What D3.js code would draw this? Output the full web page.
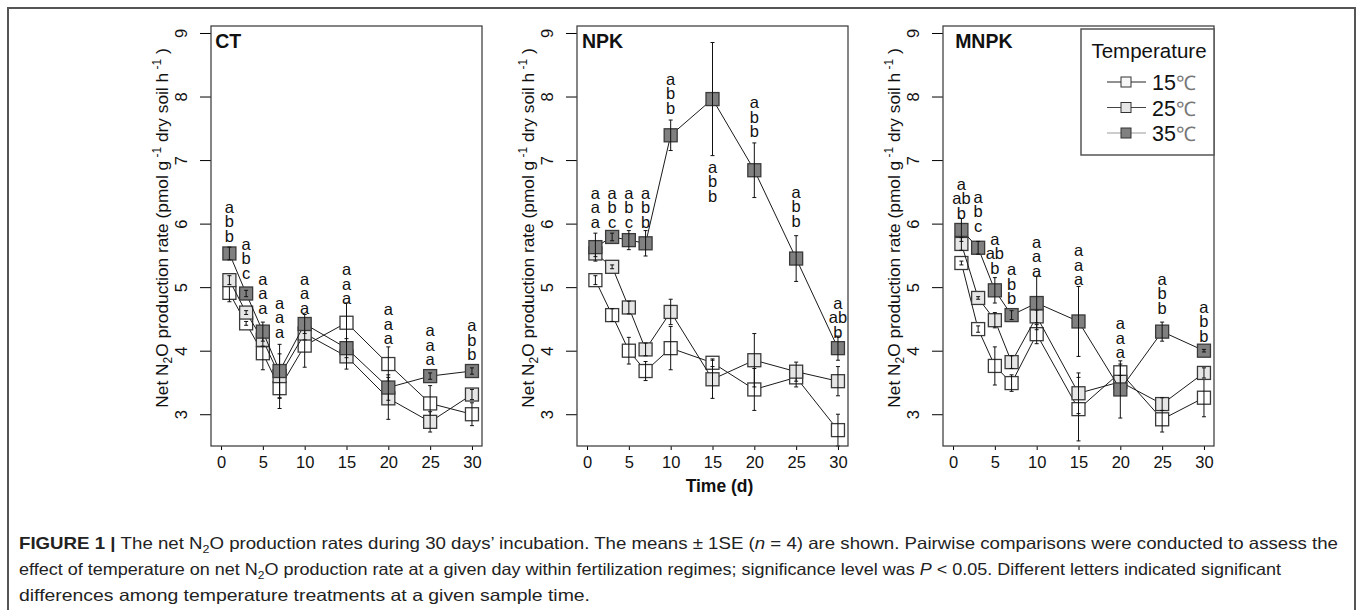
<!DOCTYPE html>
<html>
<head>
<meta charset="utf-8">
<script src="https://cdn.jsdelivr.net/npm/d3@7"></script>
<style>
  body { margin: 0; background: #fff; }
  svg { display: block; }
  text { font-family: "Liberation Sans", Arial, sans-serif; }
</style>
</head>
<body>
<div id="js_chart"></div>
<script>
// sample days and treatments
const times = [1, 3, 5, 7, 10, 15, 20, 25, 30];
const temps = ["15", "25", "35"];
const panels = ["CT", "NPK", "MNPK"];
const xTicks = [0, 5, 10, 15, 20, 25, 30];
const yTicks = [3, 4, 5, 6, 7, 8, 9];

// CT means and SE
const ct15 = [4.91, 4.43, 3.96, 3.41, 4.08, 4.44, 3.79, 3.17, 3.00];
const ct25 = [5.11, 4.60, 4.17, 3.60, 4.27, 3.91, 3.25, 2.88, 3.31];
const ct35 = [5.53, 4.90, 4.30, 3.68, 4.42, 4.04, 3.42, 3.60, 3.68];
const ct15se = [0.14, 0.03, 0.26, 0.32, 0.34, 0.31, 0.27, 0.28, 0.18];
const ct25se = [0.07, 0.03, 0.10, 0.35, 0.10, 0.20, 0.33, 0.16, 0.08];
const ct35se = [0.10, 0.05, 0.15, 0.42, 0.15, 0.15, 0.20, 0.05, 0.05];

// NPK means and SE
const npk15 = [5.11, 4.56, 4.00, 3.68, 4.04, 3.81, 3.39, 3.58, 2.75];
const npk25 = [5.53, 5.32, 4.68, 4.02, 4.61, 3.55, 3.85, 3.67, 3.52];
const npk35 = [5.63, 5.79, 5.74, 5.69, 7.39, 7.96, 6.84, 5.45, 4.04];
const npk15se = [0.07, 0.10, 0.21, 0.15, 0.34, 0.06, 0.33, 0.15, 0.25];
const npk25se = [0.05, 0.03, 0.10, 0.10, 0.20, 0.30, 0.42, 0.15, 0.23];
const npk35se = [0.22, 0.06, 0.15, 0.20, 0.24, 0.89, 0.43, 0.36, 0.19];

// MNPK means and SE
const mnpk15 = [5.38, 4.34, 3.76, 3.49, 4.26, 3.08, 3.66, 2.92, 3.26];
const mnpk25 = [5.68, 4.83, 4.48, 3.82, 4.54, 3.33, 3.51, 3.16, 3.65];
const mnpk35 = [5.90, 5.62, 4.95, 4.56, 4.75, 4.46, 3.39, 4.30, 4.00];
const mnpk15se = [0.03, 0.05, 0.30, 0.13, 0.15, 0.50, 0.13, 0.20, 0.30];
const mnpk25se = [0.10, 0.02, 0.12, 0.10, 0.10, 0.32, 0.10, 0.10, 0.08];
const mnpk35se = [0.18, 0.10, 0.20, 0.07, 0.42, 0.55, 0.45, 0.15, 0.02];

// significance letters (15/25/35) and where the top letter sits
const ctLetters = ["a b b", "a b c", "a a a", "a a a", "a a a", "a a a", "a a a", "a a a", "a b b"];
const ctLetterY = [6.26, 5.68, 5.13, 4.75, 5.13, 5.28, 4.65, 4.32, 4.40];
const npkLetters = ["a a a", "a b c", "a b c", "a b b", "a b b", "a b b", "a b b", "a b b", "a ab b"];
const npkLetterY = [6.48, 6.48, 6.48, 6.48, 8.28, 6.89, 7.91, 6.50, 4.75];
const mnpkLetters = ["a ab b", "a b c", "a ab b", "a b b", "a a a", "a a a", "a a a", "a b b", "a b b"];
const mnpkLetterY = [6.62, 6.42, 5.76, 5.28, 5.71, 5.58, 4.43, 5.13, 4.69];

const panelData = [
  { means: [ct15, ct25, ct35], se: [ct15se, ct25se, ct35se], letters: ctLetters, letterY: ctLetterY },
  { means: [npk15, npk25, npk35], se: [npk15se, npk25se, npk35se], letters: npkLetters, letterY: npkLetterY },
  { means: [mnpk15, mnpk25, mnpk35], se: [mnpk15se, mnpk25se, mnpk35se], letters: mnpkLetters, letterY: mnpkLetterY }
];

const width = 1357;
const height = 610;
const plotTop = 26;
const plotBottom = 446;
const plotW = 271;
const lefts = [211, 577, 943];
const titleX = [-0.7, -0.6, 0.25];
const fills = ["#ffffff", "#e6e6e6", "#808080"];
const legendLine = ["#222", "#444", "#9a9a9a"];

const svg = d3.select("#js_chart")
  .append("svg")
  .attr("width", width)
  .attr("height", height);

// outer frame
svg.append("path")
  .attr("d", `M8,${height + 5}V8H1355V${height + 5}`)
  .attr("fill", "none")
  .attr("stroke", "#555")
  .attr("stroke-width", 2);

const y = d3.scaleLinear().domain([2.5, 9.11]).range([plotBottom, plotTop]);

panels.forEach((name, i) => {
  const left = lefts[i];
  const data = panelData[i];
  const x = d3.scaleLinear().domain([-1.2, 31.2]).range([left, left + plotW]);
  const g = svg.append("g");

  // x axis
  const gx = g.append("g")
    .attr("transform", `translate(0,${plotBottom})`)
    .call(d3.axisBottom(x).tickValues(xTicks).tickSize(4).tickPadding(6));
  gx.select(".domain").remove();
  gx.selectAll("line").attr("stroke", "#000");
  gx.selectAll("text")
    .attr("font-size", 16.5)
    .attr("fill", "#111")
    .attr("font-family", "'Liberation Sans', Arial, sans-serif");

  // y axis, labels turned like R
  const gy = g.append("g")
    .attr("transform", `translate(${left},0)`)
    .call(d3.axisLeft(y).tickValues(yTicks).tickFormat(d3.format("d")).tickSize(11));
  gy.select(".domain").remove();
  gy.selectAll("line").attr("stroke", "#000");
  gy.selectAll("text")
    .attr("transform", "rotate(-90)")
    .attr("x", 0)
    .attr("y", -24)
    .attr("dy", 0)
    .attr("text-anchor", "middle")
    .attr("font-size", 16.5)
    .attr("fill", "#111")
    .attr("font-family", "'Liberation Sans', Arial, sans-serif");

  // y label
  const yl = g.append("text")
    .attr("transform", `translate(${left - 43},228) rotate(-90)`)
    .attr("text-anchor", "middle")
    .attr("font-size", 17.3)
    .attr("fill", "#111");
  yl.append("tspan").text("Net N");
  yl.append("tspan").attr("font-size", 12).attr("dy", 4).text("2");
  yl.append("tspan").attr("dy", -4).text("O production rate (pmol g");
  yl.append("tspan").attr("font-size", 12).attr("dy", -7).text(" -1");
  yl.append("tspan").attr("dy", 7).text(" dry soil h");
  yl.append("tspan").attr("font-size", 12).attr("dy", -7).text(" -1");
  yl.append("tspan").attr("dy", 7).text(" )");

  // series
  const line = d3.line().x(d => x(d.t)).y(d => y(d.v));
  data.means.forEach((vals, s) => {
    const pts = times.map((t, k) => ({ t, v: vals[k], se: data.se[s][k] }));
    g.append("path")
      .datum(pts)
      .attr("d", line)
      .attr("fill", "none")
      .attr("stroke", "#1a1a1a")
      .attr("stroke-width", 1);

    g.append("g").selectAll("rect")
      .data(pts)
      .join("rect")
        .attr("x", d => x(d.t) - 6.5)
        .attr("y", d => y(d.v) - 6.5)
        .attr("width", 13)
        .attr("height", 13)
        .attr("fill", fills[s])
        .attr("stroke", "#3a3a3a")
        .attr("stroke-width", 1.3);

    const eb = g.append("g").attr("stroke", "#111").attr("stroke-width", 1);
    eb.selectAll("line.v")
      .data(pts)
      .join("line")
        .attr("class", "v")
        .attr("x1", d => x(d.t)).attr("x2", d => x(d.t))
        .attr("y1", d => y(d.v - d.se)).attr("y2", d => y(d.v + d.se));
    eb.selectAll("line.top")
      .data(pts)
      .join("line")
        .attr("class", "top")
        .attr("x1", d => x(d.t) - 2).attr("x2", d => x(d.t) + 2)
        .attr("y1", d => y(d.v + d.se)).attr("y2", d => y(d.v + d.se));
    eb.selectAll("line.bot")
      .data(pts)
      .join("line")
        .attr("class", "bot")
        .attr("x1", d => x(d.t) - 2).attr("x2", d => x(d.t) + 2)
        .attr("y1", d => y(d.v - d.se)).attr("y2", d => y(d.v - d.se));
  });

  // letters
  times.forEach((t, k) => {
    data.letters[k].split(" ").forEach((l, j) => {
      g.append("text")
        .attr("x", x(t))
        .attr("y", y(data.letterY[k]) + j * 14.5)
        .attr("dy", "0.35em")
        .attr("text-anchor", "middle")
        .attr("font-size", 16.5)
        .attr("fill", "#111")
        .text(l);
    });
  });

  // plot box
  g.append("rect")
    .attr("x", left).attr("y", plotTop)
    .attr("width", plotW).attr("height", plotBottom - plotTop)
    .attr("fill", "none")
    .attr("stroke", "#444")
    .attr("stroke-width", 1.3);

  g.append("text")
    .attr("x", x(titleX[i]))
    .attr("y", 48)
    .attr("font-size", 19.5)
    .attr("font-weight", "bold")
    .attr("fill", "#111")
    .text(name);
});

// x label under the middle panel
svg.append("text")
  .attr("x", lefts[1] + plotW / 2 + 7)
  .attr("y", 492)
  .attr("text-anchor", "middle")
  .attr("font-size", 17.5)
  .attr("font-weight", "bold")
  .attr("fill", "#111")
  .text("Time (d)");

// legend inside MNPK
const lg = svg.append("g");
lg.append("rect")
  .attr("x", 1081).attr("y", 29)
  .attr("width", 133).attr("height", 126)
  .attr("fill", "#fff")
  .attr("stroke", "#555")
  .attr("stroke-width", 1.5);
lg.append("text")
  .attr("x", 1149).attr("y", 58)
  .attr("text-anchor", "middle")
  .attr("font-size", 20.5)
  .attr("fill", "#111")
  .text("Temperature");
temps.forEach((tp, s) => {
  const cy = 82 + s * 25.5;
  lg.append("line")
    .attr("x1", 1107).attr("x2", 1146)
    .attr("y1", cy).attr("y2", cy)
    .attr("stroke", legendLine[s]);
  lg.append("rect")
    .attr("x", 1121).attr("y", cy - 5)
    .attr("width", 10).attr("height", 10)
    .attr("fill", s === 0 ? "#f7f7f7" : fills[s])
    .attr("stroke", "#333");
  const t = lg.append("text")
    .attr("x", 1152).attr("y", cy + 8)
    .attr("font-size", 21.5)
    .attr("fill", "#111");
  t.append("tspan").text(tp);
  t.append("tspan").attr("fill", "#777").attr("font-size", 20).text("℃");
});

// caption
const capFont = "'Liberation Sans Narrow', 'Roboto Condensed', 'Liberation Sans', Arial, sans-serif";
const c1 = svg.append("text").attr("x", 19).attr("y", 549)
  .attr("font-size", 16.5).attr("fill", "#222").attr("font-family", capFont)
  .attr("textLength", 1319).attr("lengthAdjust", "spacingAndGlyphs");
c1.append("tspan").attr("font-weight", "bold").text("FIGURE 1 | ");
c1.append("tspan").text("The net N");
c1.append("tspan").attr("font-size", 11).attr("dy", 4).text("2");
c1.append("tspan").attr("dy", -4).text("O production rates during 30 days’ incubation. The means ± 1SE (");
c1.append("tspan").attr("font-style", "italic").text("n");
c1.append("tspan").text(" = 4) are shown. Pairwise comparisons were conducted to assess the");

const c2 = svg.append("text").attr("x", 19).attr("y", 575)
  .attr("font-size", 16.5).attr("fill", "#222").attr("font-family", capFont)
  .attr("textLength", 1262).attr("lengthAdjust", "spacingAndGlyphs");
c2.append("tspan").text("effect of temperature on net N");
c2.append("tspan").attr("font-size", 11).attr("dy", 4).text("2");
c2.append("tspan").attr("dy", -4).text("O production rate at a given day within fertilization regimes; significance level was ");
c2.append("tspan").attr("font-style", "italic").text("P");
c2.append("tspan").text(" < 0.05. Different letters indicated significant");

svg.append("text").attr("x", 19).attr("y", 601)
  .attr("font-size", 16.5).attr("fill", "#222").attr("font-family", capFont)
  .attr("textLength", 571).attr("lengthAdjust", "spacingAndGlyphs")
  .text("differences among temperature treatments at a given sample time.");
</script>
</body>
</html>
